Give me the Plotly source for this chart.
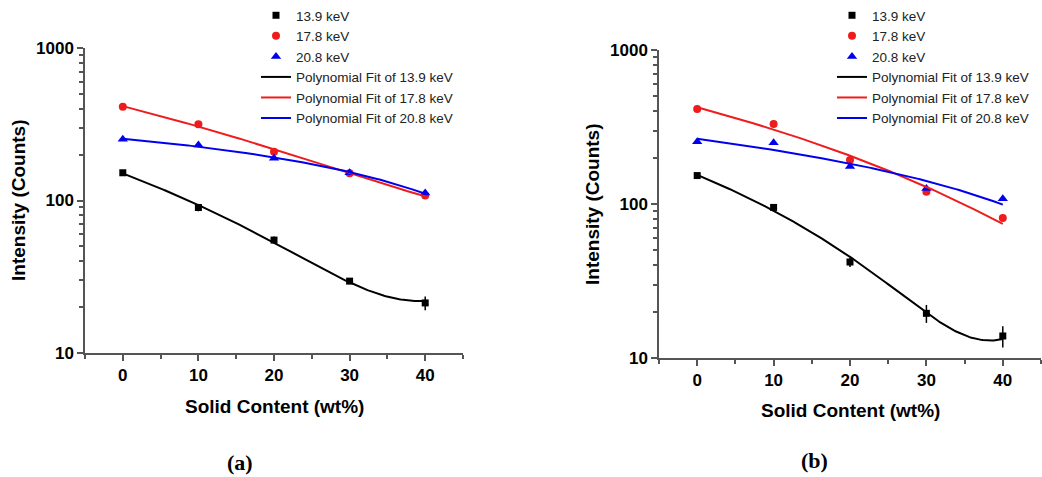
import numpy as np
import plotly.graph_objects as go

# ---------------- data ----------------
solid = [0, 10, 20, 30, 40]

# panel (a)
a_139 = [152, 90, 55, 29.6, 21.3]
a_139_err = [3, 5, 3, 1.2, 2.2]
a_178 = [412, 316, 209, 151, 108]
a_208 = [252, 231, 189, 152, 112]

# panel (b)
b_139 = [153, 95, 42, 19.5, 13.9]
b_139_err = [4, 5, 3, 2.6, 2.2]
b_178 = [414, 331, 193, 120, 81]
b_208 = [254, 250, 175, 126, 108]

labels = ["13.9 keV", "17.8 keV", "20.8 keV"]
fit_labels = ["Polynomial Fit of 13.9 keV", "Polynomial Fit of 17.8 keV",
              "Polynomial Fit of 20.8 keV"]
colors = ["#000000", "#ee1c1c", "#0000ee"]
symbols = ["square", "circle", "triangle-up"]
fit_degree = 2

xf = np.linspace(0, 40, 200)


def fit(y, deg):
    c = np.polyfit(solid, y, deg)
    return np.polyval(c, xf)


fig = go.Figure()

panels = [
    ("x", "y", "legend", [a_139, a_178, a_208], a_139_err),
    ("x2", "y2", "legend2", [b_139, b_178, b_208], b_139_err),
]

for xa, ya, lg, series, err in panels:
    for i, y in enumerate(series):
        fig.add_trace(go.Scatter(
            x=solid, y=y, mode="markers", name=labels[i],
            xaxis=xa, yaxis=ya, legend=lg,
            marker=dict(symbol=symbols[i], color=colors[i],
                        size=[7, 8, 9][i], line=dict(width=0)),
            error_y=dict(type="data", array=err, color="#000", thickness=1.5,
                         width=0, visible=(i == 0)),
        ))
    for i, y in enumerate(series):
        fig.add_trace(go.Scatter(
            x=xf, y=fit(y, fit_degree), mode="lines", name=fit_labels[i],
            xaxis=xa, yaxis=ya, legend=lg,
            line=dict(color=colors[i], width=2),
        ))

W, H = 1042, 477

axis_common = dict(
    showline=True, linecolor="#555", linewidth=1.5, showgrid=False,
    zeroline=False, ticks="outside", ticklen=6, tickwidth=1.5, tickcolor="#555",
    automargin=False,
    tickfont=dict(family="Liberation Sans, Arial", size=17, color="#000", weight="bold"),
)
log_minor = [2, 3, 4, 5, 6, 7, 8, 9, 20, 30, 40, 50, 60, 70, 80, 90,
             200, 300, 400, 500, 600, 700, 800, 900]

xdomA = [85 / W, 463 / W]
ydomA = [1 - 353 / H, 1 - 48 / H]
xdomB = [659 / W, 1041 / W]
ydomB = [1 - 358 / H, 1 - 50 / H]

legend_font = dict(family="Liberation Sans, Arial", size=13.5, color="#222")

fig.update_layout(
    width=W, height=H,
    margin=dict(l=0, r=0, t=0, b=0, pad=0),
    paper_bgcolor="white", plot_bgcolor="white",
    xaxis=dict(domain=xdomA, anchor="y", range=[-5, 45], tickvals=[0, 10, 20, 30, 40],
               minor=dict(ticks="outside", ticklen=4, tickcolor="#555", dtick=5, tick0=-5),
               **axis_common),
    yaxis=dict(domain=ydomA, anchor="x", type="log", range=[1, 3],
               tickvals=[10, 100, 1000], ticktext=["10", "100", "1000"],
               minor=dict(ticks="outside", ticklen=4, tickcolor="#555", tickvals=log_minor),
               **axis_common),
    xaxis2=dict(domain=xdomB, anchor="y2", range=[-5, 45], tickvals=[0, 10, 20, 30, 40],
                minor=dict(ticks="outside", ticklen=4, tickcolor="#555", dtick=5, tick0=-5),
                **axis_common),
    yaxis2=dict(domain=ydomB, anchor="x2", type="log", range=[1, 3],
                tickvals=[10, 100, 1000], ticktext=["10", "100", "1000"],
                minor=dict(ticks="outside", ticklen=4, tickcolor="#555", tickvals=log_minor),
                **axis_common),
    legend=dict(x=256 / W, y=1.0, xanchor="left", yanchor="top",
                bgcolor="rgba(0,0,0,0)", tracegroupgap=0, itemwidth=30,
                font=legend_font),
    legend2=dict(x=832 / W, y=1.0, xanchor="left", yanchor="top",
                 bgcolor="rgba(0,0,0,0)", tracegroupgap=0, itemwidth=30,
                 font=legend_font),
    showlegend=True,
)

title_font = dict(family="Liberation Sans, Arial", size=19, color="#000", weight="bold")
ann = [
    dict(text="Intensity (Counts)", x=18 / W, y=1 - 200 / H, textangle=-90),
    dict(text="Intensity (Counts)", x=592 / W, y=1 - 204 / H, textangle=-90),
    dict(text="Solid Content (wt%)", x=274 / W, y=1 - 406 / H),
    dict(text="Solid Content (wt%)", x=850 / W, y=1 - 410 / H),
]
for a in ann:
    fig.add_annotation(xref="paper", yref="paper", showarrow=False,
                       xanchor="center", yanchor="middle", font=title_font, **a)

for txt, xx, yy in [("(a)", 240, 462), ("(b)", 814, 460)]:
    fig.add_annotation(text=txt, xref="paper", yref="paper",
                       x=xx / W, y=1 - yy / H, showarrow=False,
                       xanchor="center", yanchor="middle",
                       font=dict(family="Liberation Serif, Times New Roman", size=22,
                                 color="#000", weight="bold"))

fig.write_html("out.html")
